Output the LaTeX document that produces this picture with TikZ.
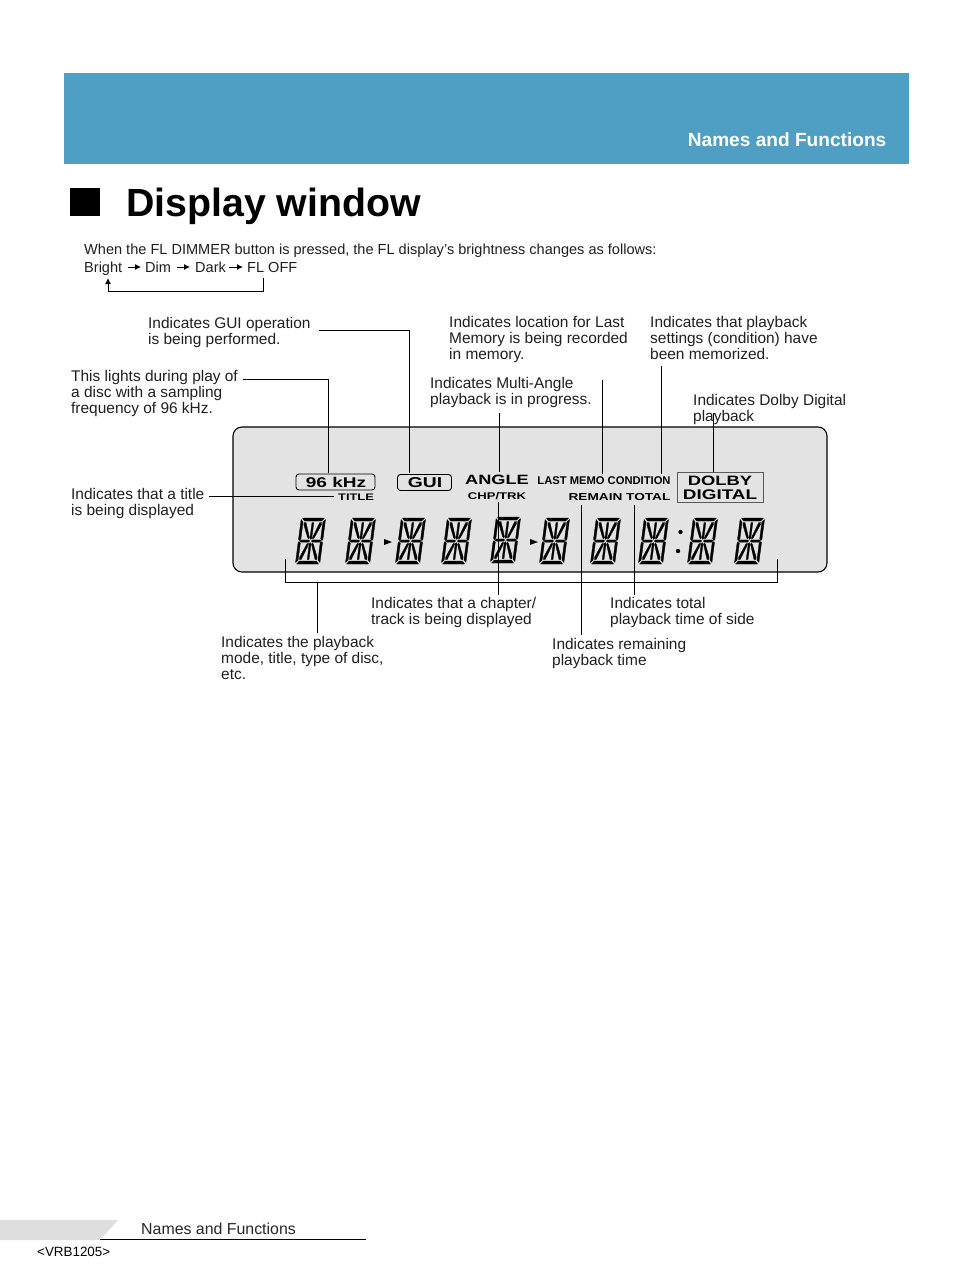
\documentclass[tikz,border=0pt]{standalone}
\usepackage{fontspec}
\setmainfont{Liberation Sans}
\newfontfamily\widef[FakeStretch=1.35]{Liberation Sans}
\definecolor{hdr}{HTML}{4F9EC4}
\definecolor{lcd}{HTML}{E3E3E3}
\definecolor{foot}{HTML}{DEDEDE}
\newcommand{\lcddigit}[3]{%
\begin{scope}[shift={(#1+6,#2)},xslant=.13,every path/.style={fill=black,draw=black,line width=.3pt,line join=round}]
\path (1.5,0)--(23.5,0)--(21,3)--(4,3)--cycle;
\path (1.5,46)--(23.5,46)--(21,43)--(4,43)--cycle;
\path (0.3,1.5)--(2.6,4)--(2.6,21)--(1.2,22.5)--(0.3,21.5)--cycle;
\path (0.3,44.5)--(2.6,42)--(2.6,25)--(1.2,23.5)--(0.3,24.5)--cycle;
\path (24.7,1.5)--(22.4,4)--(22.4,21)--(23.8,22.5)--(24.7,21.5)--cycle;
\path (24.7,44.5)--(22.4,42)--(22.4,25)--(23.8,23.5)--(24.7,24.5)--cycle;
\path (3,21.9)--(10.6,21.9)--(11.6,23)--(10.6,24.1)--(3,24.1)--(2,23)--cycle;
\path (22,21.9)--(14.4,21.9)--(13.4,23)--(14.4,24.1)--(22,24.1)--(23,23)--cycle;
\path (11.6,4.5)--(13.4,4.5)--(13.4,20)--(12.5,21.5)--(11.6,20)--cycle;
\path (11.6,41.5)--(13.4,41.5)--(13.4,26)--(12.5,24.5)--(11.6,26)--cycle;
\path (3.8,4.5)--(5.6,4.5)--(11,19.5)--(10.6,21)--(9.2,19.8)--(3.8,7)--cycle;
\path (21.2,4.5)--(19.4,4.5)--(14,19.5)--(14.4,21)--(15.8,19.8)--(21.2,7)--cycle;
\path (3.8,41.5)--(5.6,41.5)--(11,26.5)--(10.6,25)--(9.2,26.2)--(3.8,39)--cycle;
\path (21.2,41.5)--(19.4,41.5)--(14,26.5)--(14.4,25)--(15.8,26.2)--(21.2,39)--cycle;
\end{scope}}
\usetikzlibrary{arrows.meta}
\tikzset{
 txt/.style={anchor=north west,inner sep=0pt,align=left,font=\fontsize{15.45}{16}\selectfont,text=black!88},
 one/.style={anchor=base west,inner sep=0pt,font=\fontsize{14.55}{16}\selectfont,text=black!88},
 lead/.style={draw=black,line width=.8pt},
 badge/.style={draw=black,line width=.9pt,rounded corners=3pt,fill=lcd},
 lcdw/.style={inner sep=0pt,font=\widef\bfseries\fontsize{#1}{#1}\selectfont},
 lcdn/.style={inner sep=0pt,font=\bfseries\fontsize{#1}{#1}\selectfont},
 flow/.style={draw=black,line width=.9pt,-{Latex[length=6pt,width=6pt]}},
}
\begin{document}
\begin{tikzpicture}[x=1pt,y=-1pt]
\useasboundingbox (0,0) rectangle (954,1272);
% header
\fill[hdr] (64,73) rectangle (909,164);
\node[anchor=base east,inner sep=0pt,text=white,font=\bfseries\fontsize{19.1}{19}\selectfont] (hd) at (886.5,146) {Names and Functions};
\fill[black] (70,187.5) rectangle (99.5,215.5);
\node[anchor=base west,inner sep=0pt,font=\bfseries\fontsize{39.3}{38}\selectfont] (title) at (126,216) {Display window};
% intro
\node[one] (intro) at (84,254) {When the FL DIMMER button is pressed, the FL display’s brightness changes as follows:};
\node[one] (br) at (84,272) {Bright};
\node[one] (di) at (145,272) {Dim};
\node[one] (da) at (195,272) {Dark};
\node[one] (fl) at (247,272) {FL OFF};
\coordinate (a1) at (128,267); \coordinate (a2) at (141,267);
\coordinate (a3) at (177,267); \coordinate (a4) at (190,267);
\coordinate (a5) at (229,267); \coordinate (a6) at (243,267);
\draw[flow] (a1)--(a2);
\draw[flow] (a3)--(a4);
\draw[flow] (a5)--(a6);
\coordinate (l1) at (263,278); \coordinate (l2) at (108,278);
\draw[flow] (l1)--(263,291)--(108,291)--(l2);
% panel
\draw[fill=lcd,line width=1.1pt,rounded corners=9pt] (233,427) rectangle (827,572);
\node[badge,minimum width=79pt,minimum height=16pt,inner sep=0pt] (khz) at (335.5,482) {};
\node[lcdw=14.1] at (336,482) {96 kHz};
\node[badge,minimum width=54pt,minimum height=16pt,inner sep=0pt] (gui) at (424.5,482.5) {};
\node[lcdw=14.3] at (425,483) {GUI};
\node[lcdw=9.5] (ttl) at (356,497) {TITLE};
\node[lcdw=13.5] (ang) at (497,480) {ANGLE};
\node[lcdw=9.7] (chp) at (497,496) {CHP/TRK};
\node[lcdn=11.2] (last) at (604,481) {LAST MEMO CONDITION};
\node[lcdw=10.1] (rem) at (619.5,497) {REMAIN TOTAL};
\node[draw=black!65,fill=lcd,line width=1pt,minimum width=86pt,minimum height=30pt,inner sep=0pt] (dol) at (720,487) {};
\node[lcdw=13.6] at (720,481) {DOLBY};
\node[lcdw=14] at (720,494.5) {DIGITAL};
% digits
\lcddigit{295}{518}{}
\lcddigit{345}{518}{}
\lcddigit{395}{518}{}
\lcddigit{441}{518}{}
\lcddigit{490}{517}{}
\lcddigit{539}{518}{}
\lcddigit{590}{518}{}
\lcddigit{638}{518}{}
\lcddigit{687}{518}{}
\lcddigit{734}{518}{}
\fill[black] (384,539) -- (392,542) -- (384,545) -- cycle;
\fill[black] (530,539) -- (538,542) -- (530,545) -- cycle;
\fill[black] (680.5,532) circle (2.2);
\fill[black] (678,551) circle (2.2);
% labels
\node[txt] (tgui) at (148,317) {Indicates GUI operation\\is being performed.};
\node[txt] (t96) at (71,370) {This lights during play of\\a disc with a sampling\\frequency of 96 kHz.};
\node[txt] (ttitle) at (71,488) {Indicates that a title\\is being displayed};
\node[txt] (tlast) at (449,316) {Indicates location for Last\\Memory is being recorded\\in memory.};
\node[txt] (tmulti) at (430,377) {Indicates Multi-Angle\\playback is in progress.};
\node[txt] (tcond) at (650,316) {Indicates that playback\\settings (condition) have\\been memorized.};
\node[txt] (tdol) at (693,394) {Indicates Dolby Digital\\playback};
\node[txt] (tchap) at (371,597) {Indicates that a chapter/\\track is being displayed};
\node[txt] (ttot) at (610,597) {Indicates total\\playback time of side};
\node[txt] (tmode) at (221,636) {Indicates the playback\\mode, title, type of disc,\\etc.};
\node[txt] (trem) at (552,638) {Indicates remaining\\playback time};
% leaders
\coordinate (c1) at (319,330); \coordinate (c2) at (409,473);
\draw[lead] (c1)--(409,330)--(c2);
\coordinate (c3) at (243,379); \coordinate (c4) at (328,473);
\draw[lead] (c3)--(328,379)--(c4);
\coordinate (c5) at (209,496); \coordinate (c6) at (334,496);
\draw[lead] (c5)--(c6);
\coordinate (c7) at (499.5,413); \coordinate (c8) at (499.5,472);
\draw[lead] (c7)--(c8);
\coordinate (c9) at (602.5,380); \coordinate (c10) at (602.5,474);
\draw[lead] (c9)--(c10);
\coordinate (c11) at (661.5,366); \coordinate (c12) at (661.5,474);
\draw[lead] (c11)--(c12);
\coordinate (c13) at (713.5,413); \coordinate (c14) at (713.5,472);
\draw[lead] (c13)--(c14);
\coordinate (c15) at (498.5,502); \coordinate (c16) at (498.5,595);
\draw[lead] (c15)--(c16);
\coordinate (c17) at (581.5,505); \coordinate (c18) at (581.5,635);
\draw[lead] (c17)--(c18);
\coordinate (c19) at (634.5,505); \coordinate (c20) at (634.5,595);
\draw[lead] (c19)--(c20);
\coordinate (c21) at (285.5,559); \coordinate (c22) at (777.5,559);
\draw[lead] (c21)--(285.5,582)--(777.5,582)--(c22);
\coordinate (c23) at (317.5,582); \coordinate (c24) at (317.5,633);
\draw[lead] (c23)--(c24);
% footer
\fill[foot] (0,1220) -- (118,1220) -- (100,1240) -- (0,1240) -- cycle;
\coordinate (f1) at (100,1239.6); \coordinate (f2) at (366,1239.6);
\draw[black,line width=.9pt] (f1)--(f2);
\node[anchor=base west,inner sep=0pt,font=\fontsize{15.9}{16}\selectfont,text=black!85] (fn) at (141,1234) {Names and Functions};
\node[anchor=base west,inner sep=0pt,font=\fontsize{13.4}{13}\selectfont] (vrb) at (37,1256) {<VRB1205>};
\end{tikzpicture}
\end{document}
